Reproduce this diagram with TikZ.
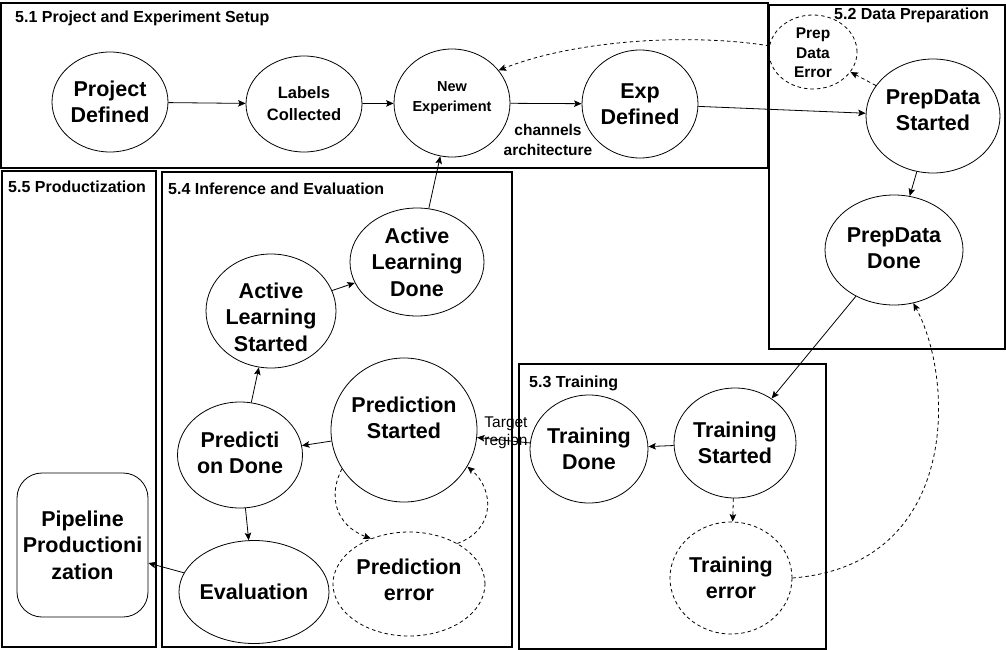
\documentclass[tikz,border=0pt]{standalone}
\usepackage{fontspec}
\setmainfont{Liberation Sans}
\usetikzlibrary{shapes.geometric,arrows.meta}
\tikzset{
  region/.style={draw, line width=1.1pt},
  regtitle/.style={anchor=west, inner sep=0pt, font=\fontsize{16}{18}\selectfont\bfseries},
  st/.style={draw, ellipse, line width=0.8pt, inner sep=0pt},
  errst/.style={st, dash pattern=on 3.5pt off 3pt},
  bigtxt/.style={align=center, inner sep=0pt, font=\fontsize{21.5}{26.5}\selectfont\bfseries},
  midtxt/.style={align=center, inner sep=0pt, font=\fontsize{16.5}{22}\selectfont\bfseries},
  smalltxt/.style={align=center, inner sep=0pt, font=\fontsize{15.5}{19.5}\selectfont\bfseries},
  arr/.style={line width=0.8pt, -{Stealth[length=7.5pt,width=6.5pt,inset=1.5pt]}},
  darr/.style={arr, dash pattern=on 3.5pt off 3pt},
}
\begin{document}
\begin{tikzpicture}[x=1pt,y=-1pt]
\useasboundingbox (0,0) rectangle (1006,650);
% regions
\draw[region] (1,3) rectangle (768,168);
\draw[region] (769,5) rectangle (1005,349);
\draw[region] (2,171) rectangle (156,647);
\draw[region] (162,172) rectangle (512,647);
\draw[region] (519,364) rectangle (826,649);
\node[regtitle] (t51) at (15,18) {5.1 Project and Experiment Setup};
\node[regtitle] (t52) at (834,15) {5.2 Data Preparation};
\node[regtitle] (t55) at (8,187) {5.5 Productization};
\node[regtitle] (t54) at (168,189) {5.4 Inference and Evaluation};
\node[regtitle] (t53) at (529,383) {5.3 Training};
% states
\node[st, minimum width=116pt, minimum height=100pt] (pd) at (110,102) {};
\node[bigtxt] (pdt) at (pd) {Project\\Defined};
\node[st, minimum width=116pt, minimum height=96pt] (lc) at (304,104) {};
\node[midtxt] (lct) at (lc) {Labels\\Collected};
\node[st, minimum width=116pt, minimum height=108pt] (ne) at (452,103) {};
\node[align=center, inner sep=0pt, font=\fontsize{14.5}{19.5}\selectfont\bfseries] (net) at (452,98) {New\\Experiment};
\node[st, minimum width=116pt, minimum height=108pt] (ed) at (640,104) {};
\node[bigtxt] (edt) at (640,104) {Exp\\Defined};
\node[errst, minimum width=88pt, minimum height=74pt] (pde) at (813,52) {};
\node[smalltxt] (pdet) at (813,53) {Prep\\Data\\Error};
\node[st, minimum width=134pt, minimum height=114pt] (pds) at (933,116) {};
\node[bigtxt] (pdst) at (933,110) {PrepData\\Started};
\node[st, minimum width=138pt, minimum height=110pt] (pdd) at (894,250) {};
\node[bigtxt] (pddt) at (894,248) {PrepData\\Done};
\node[st, minimum width=134pt, minimum height=108pt] (ald) at (417,262) {};
\node[bigtxt] (aldt) at (417,262) {Active\\Learning\\Done};
\node[st, minimum width=130pt, minimum height=114pt] (als) at (271,311) {};
\node[bigtxt] (alst) at (271,317) {Active\\Learning\\Started};
\node[st, minimum width=146pt, minimum height=144pt] (ps) at (404,430) {};
\node[bigtxt] (pst) at (404,418) {Prediction\\Started};
\node[st, minimum width=125pt, minimum height=106pt] (pdn) at (240,455) {};
\node[bigtxt] (pdnt) at (240,453) {Predicti\\on Done};
\node[st, minimum width=150pt, minimum height=103pt] (ev) at (254,592) {};
\node[bigtxt] (evt) at (254,592) {Evaluation};
\node[errst, minimum width=152pt, minimum height=104pt] (pe) at (409,584) {};
\node[bigtxt] (pet) at (409,580) {Prediction\\error};
\node[st, minimum width=118pt, minimum height=108pt] (td) at (589,449) {};
\node[bigtxt] (tdt) at (589,449) {Training\\Done};
\node[st, minimum width=122pt, minimum height=110pt] (ts) at (735,443) {};
\node[bigtxt] (tst) at (735,443) {Training\\Started};
\node[errst, minimum width=122pt, minimum height=112pt] (te) at (731,578) {};
\node[bigtxt] (tet) at (731,578) {Training\\error};
\node[draw, line width=0.8pt, rounded corners=25pt, minimum width=131pt, minimum height=144pt, inner sep=0pt] (pp) at (82.5,545) {};
\node[bigtxt] (ppt) at (82.5,545) {Pipeline\\Productioni\\zation};
% connectors
\draw[arr] (pd) -- (lc);
\draw[arr] (lc) -- (ne);
\draw[arr] (ne) -- (ed);
\node[align=center, inner sep=0pt, font=\fontsize{15.5}{20}\selectfont\bfseries] (chl) at (548,140) {channels\\architecture};
\draw[arr] (ed) -- (pds);
\draw[darr] (pds) -- (pde);
\draw[darr] (pde.172) .. controls (690,33) and (575,40) .. (ne.35);
\draw[arr] (pds) -- (pdd);
\draw[arr] (pdd) -- (ts);
\draw[darr] (te.east) .. controls (960,565) and (955,380) .. (pdd.-70);
\draw[arr] (ts) -- (td);
\draw[darr] (ts) -- (te);
\draw[arr] (td) -- (ps);
\node[align=center, inner sep=0pt, font=\fontsize{15.5}{18.5}\selectfont] (trl) at (506,433) {Target\\region};
\draw[arr] (ps) -- (pdn);
\draw[arr] (pdn) -- (als);
\draw[arr] (als) -- (ald);
\draw[arr] (ald) -- (ne);
\draw[arr] (pdn) -- (ev);
\draw[arr] (ev) -- (pp);
\draw[darr] (ps.212) .. controls (328,495) and (335,525) .. (pe.130);
\draw[darr] (pe.40) .. controls (495,530) and (495,490) .. (ps.-30);
\end{tikzpicture}
\end{document}
